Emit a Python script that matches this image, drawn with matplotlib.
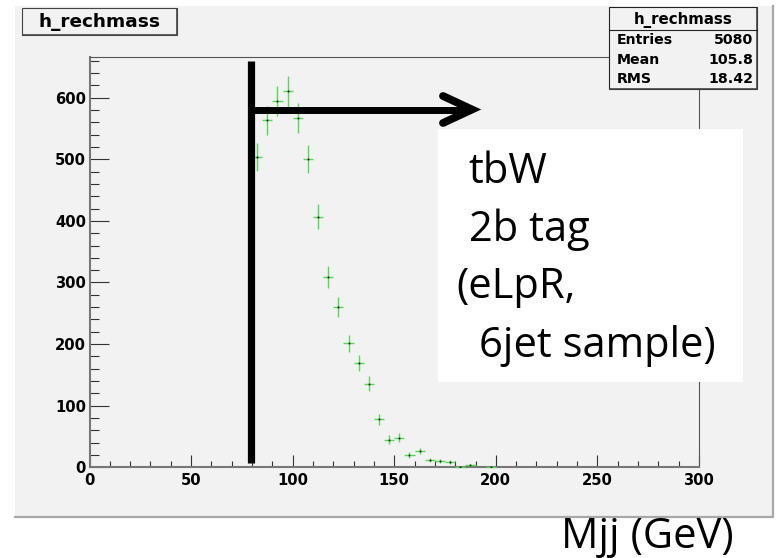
import numpy as np
import matplotlib
matplotlib.use("Agg")
import matplotlib.pyplot as plt
from matplotlib.patches import Rectangle
from matplotlib.lines import Line2D

# Reconstructed dijet mass histogram (5 GeV bins)
bin_centers = [82.5, 87.5, 92.5, 97.5, 102.5, 107.5, 112.5, 117.5, 122.5, 127.5,
               132.5, 137.5, 142.5, 147.5, 152.5, 157.5, 162.5, 167.5, 172.5, 177.5,
               182.5, 187.5, 192.5, 197.5]
bin_counts = [504, 563, 594, 610, 567, 500, 407, 309, 260, 201,
              170, 136, 78, 45, 48, 20, 26, 12, 10, 9,
              1, 3, 0, 1]
bin_width = 5.0

x_ticks = [0, 50, 100, 150, 200, 250, 300]
y_ticks = [0, 100, 200, 300, 400, 500, 600]

hist_name = "h_rechmass"
stats_labels = ["Entries", "Mean", "RMS"]
stats_values = ["5080", "105.8", "18.42"]

note_lines = ["tbW", "2b tag", "(eLpR,", "6jet sample)"]
axis_note = "Mjj (GeV)"

W, H = 777, 558
DPI = 100
PANEL = "#f2f2f2"
GREEN = "#55d955"
ROOT_FONT = "DejaVu Sans"
NOTE_FONT = "Open Sans"
NOTE_SIZE = 30

fig = plt.figure(figsize=(W / DPI, H / DPI), dpi=DPI)
fig.patch.set_facecolor("white")


def fx(x):
    return x / W


def fy(y):
    return 1.0 - y / H


def px_rect(x0, y0, x1, y1, **kw):
    return Rectangle((fx(x0), fy(y1)), fx(x1) - fx(x0), fy(y0) - fy(y1),
                     transform=fig.transFigure, **kw)


def px_line(xs, ys, **kw):
    return Line2D([fx(x) for x in xs], [fy(y) for y in ys],
                  transform=fig.transFigure, **kw)


# canvas panel with its shadow
fig.patches.append(px_rect(15, 6, 773, 517, facecolor=PANEL, edgecolor="none", zorder=-2))
fig.lines.append(px_line([15, 773, 773], [517, 517, 6], color="#a8a8a8", lw=1.6, zorder=-1))

# plot frame
x0, x1 = 89.5, 699.0
y_top, y_bot = 57.0, 467.3
ax = fig.add_axes([fx(x0), fy(y_bot), fx(x1) - fx(x0), fy(y_top) - fy(y_bot)])
ax.set_zorder(2)
ax.set_facecolor(PANEL)
ax.set_xlim(0, 300)
ax.set_ylim(0, 666)

ax.set_xticks(x_ticks)
ax.set_yticks(y_ticks)
ax.set_xticks(np.arange(0, 301, 10), minor=True)
ax.set_yticks(np.arange(0, 661, 20), minor=True)
ax.set_xticklabels([str(t) for t in x_ticks])
ax.set_yticklabels([str(t) for t in y_ticks])

for lab in ax.get_xticklabels() + ax.get_yticklabels():
    lab.set_fontfamily(ROOT_FONT)
    lab.set_fontweight("bold")
    lab.set_fontsize(10.6)

ax.tick_params(axis="x", which="major", direction="in", length=8.6, width=0.8,
               color="#333333", pad=4.2, top=False)
ax.tick_params(axis="x", which="minor", direction="in", length=4.3, width=0.8,
               color="#333333", top=False)
ax.tick_params(axis="y", which="major", direction="in", length=13.7, width=0.8,
               color="#333333", pad=2.5, right=False)
ax.tick_params(axis="y", which="minor", direction="in", length=6.8, width=0.8,
               color="#333333", right=False)

for side in ("bottom", "left"):
    ax.spines[side].set_color("#777777")
    ax.spines[side].set_linewidth(1.5)
for side in ("top", "right"):
    ax.spines[side].set_color("#555555")
    ax.spines[side].set_linewidth(0.8)

# histogram drawn with error bars, empty bins skipped
xc = np.array(bin_centers)
yc = np.array(bin_counts, dtype=float)
filled = yc > 0
ax.errorbar(xc[filled], yc[filled], xerr=bin_width / 2, yerr=np.sqrt(yc[filled]),
            fmt="none", ecolor=GREEN, elinewidth=1.0, capsize=0, zorder=3,
            clip_on=False)
ax.plot(xc[filled], yc[filled], ls="none", marker="s", ms=1.2, color="black",
        mec="none", zorder=4)

# title box
fig.patches.append(px_rect(22, 8, 177, 35, facecolor=PANEL, edgecolor="#444444",
                           lw=0.8, zorder=5))
fig.lines.append(px_line([23, 177, 177], [35, 35, 9], color="#444444", lw=1.2, zorder=6))
fig.text(fx(99.5), fy(27.0), hist_name, ha="center", va="baseline",
         family=ROOT_FONT, weight="bold", size=13.3, zorder=7)

# statistics box
fig.patches.append(px_rect(609, 7, 757, 89, facecolor=PANEL, edgecolor="#222222",
                           lw=0.8, zorder=5))
fig.lines.append(px_line([610, 757, 757], [89, 89, 8], color="#444444", lw=1.2, zorder=6))
fig.lines.append(px_line([609, 757], [30, 30], color="#222222", lw=0.8, zorder=6))
fig.text(fx(683), fy(23.5), hist_name, ha="center", va="baseline",
         family=ROOT_FONT, weight="bold", size=10.8, zorder=7)
for i, (lab, val) in enumerate(zip(stats_labels, stats_values)):
    yb = 44.0 + 19.7 * i
    fig.text(fx(617), fy(yb), lab, ha="left", va="baseline",
             family=ROOT_FONT, weight="bold", size=10.2, zorder=7)
    fig.text(fx(753), fy(yb), val, ha="right", va="baseline",
             family=ROOT_FONT, weight="bold", size=10.2, zorder=7)

# cut line and arrow
fig.lines.append(px_line([250.5, 250.5], [61, 463], color="black", lw=5.2,
                         solid_capstyle="butt", zorder=8))
fig.lines.append(px_line([254, 468], [109.5, 109.5], color="black", lw=5.0,
                         solid_capstyle="butt", zorder=8))
fig.lines.append(px_line([443, 472, 443], [96, 109.5, 123], color="black", lw=5.6,
                         solid_capstyle="round", solid_joinstyle="miter", zorder=8))

# annotation box
fig.patches.append(px_rect(438, 129, 743, 382, facecolor="white", edgecolor="none", zorder=9))
note_pos = [(468, 183), (469, 241), (456, 298), (479, 357)]
for txt, (tx, ty) in zip(note_lines, note_pos):
    fig.text(fx(tx), fy(ty), txt, ha="left", va="baseline", family=NOTE_FONT,
             size=NOTE_SIZE, color="black", zorder=10)

fig.text(fx(561), fy(548), axis_note, ha="left", va="baseline", family=NOTE_FONT,
         size=NOTE_SIZE, color="black", zorder=10)

fig.savefig("out.png", dpi=DPI, facecolor=fig.get_facecolor())
